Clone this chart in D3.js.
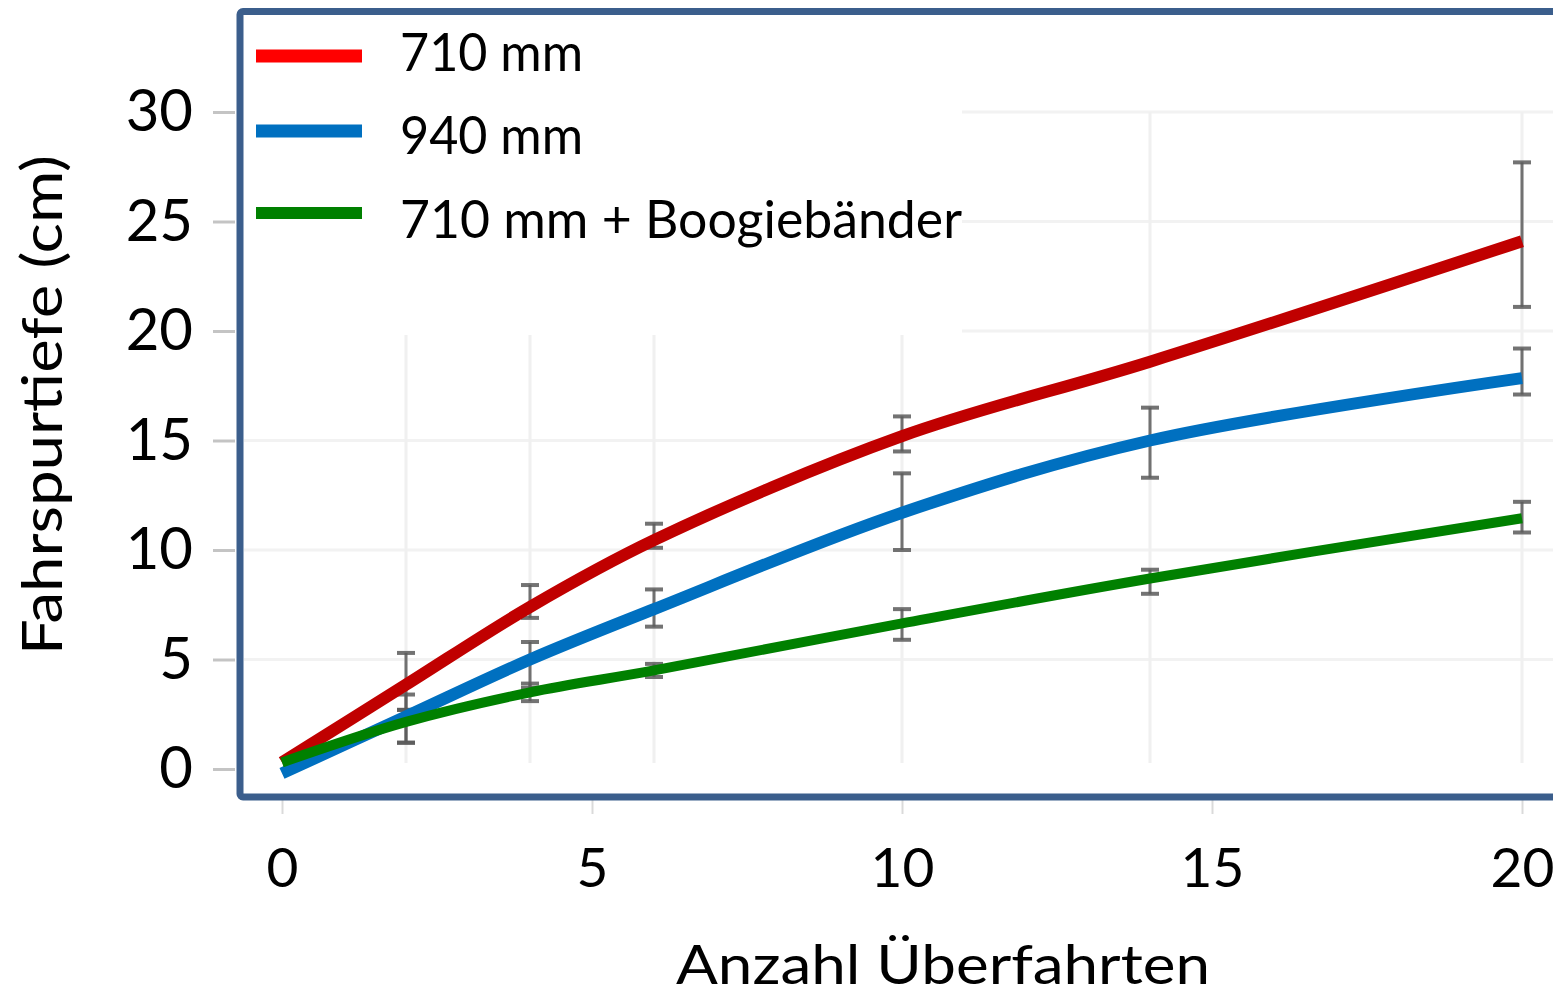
<!DOCTYPE html>
<html>
<head>
<meta charset="utf-8">
<script src="https://cdn.jsdelivr.net/npm/d3@7"></script>
<style>
html,body{margin:0;padding:0;background:#fff;}
svg{display:block;}
text{font-family:Lato,"Open Sans",sans-serif;fill:#000;}
</style>
</head>
<body>
<svg id="chart" width="1553" height="997"></svg>
<script>
// ---- data ----
const passes = [0, 2, 4, 6, 10, 14, 20];
const series710 = [0.3, 3.85, 7.4, 10.45, 15.2, 18.6, 24.1];
const series940 = [-0.2, 2.4, 5.0, 7.3, 11.7, 15.0, 17.85];
const series710B = [0.3, 2.15, 3.5, 4.5, 6.65, 8.7, 11.45];
const err710Lo = [null, 2.7, 6.9, 10.1, 14.5, null, 21.1];
const err710Hi = [null, 5.3, 8.4, 11.2, 16.1, null, 27.7];
const err940Lo = [null, 1.2, 3.7, 6.5, 10.0, 13.3, 17.1];
const err940Hi = [null, 3.4, 5.8, 8.2, 13.5, 16.5, 19.2];
const err710BLo = [null, 1.2, 3.1, 4.2, 5.9, 8.0, 10.8];
const err710BHi = [null, 2.7, 3.9, 4.8, 7.3, 9.1, 12.2];
const seriesNames = ["710 mm", "940 mm", "710 mm + Boogiebänder"];
const xTicks = [0, 5, 10, 15, 20];
const yTicks = [0, 5, 10, 15, 20, 25, 30];
const xTitle = "Anzahl Überfahrten";
const yTitle = "Fahrspurtiefe (cm)";

// ---- layout ----
const svg = d3.select("#chart");
const x = d3.scaleLinear().domain([0, 20]).range([282, 1522]);
const y = d3.scaleLinear().domain([0, 30]).range([769, 112]);

const lineColors = ["#c00000", "#0070c0", "#008000"];
const legendColors = ["#ff0000", "#0070c0", "#008000"];
const lineWidths = [12, 12, 10];

const seriesData = [series710, series940, series710B];
const errLo = [err710Lo, err940Lo, err710BLo];
const errHi = [err710Hi, err940Hi, err710BHi];

// gridlines (very faint)
const grid = svg.append("g");
grid.selectAll("line.h").data(yTicks.filter(d => d > 0)).join("line")
  .attr("x1", 244).attr("x2", 1553)
  .attr("y1", d => y(d)).attr("y2", d => y(d))
  .attr("stroke", "#f2f2f2").attr("stroke-width", 3);
grid.selectAll("line.v").data(passes.filter(d => d > 0)).join("line")
  .attr("x1", d => x(d)).attr("x2", d => x(d))
  .attr("y1", y(30)).attr("y2", y(0) - 6)
  .attr("stroke", "#f0f0f0").attr("stroke-width", 3);

// legend background
svg.append("rect").attr("x", 244).attr("y", 15).attr("width", 718).attr("height", 320)
  .attr("fill", "#fff");

// axes
const yAxis = svg.append("g").attr("transform", "translate(235,0)")
  .call(d3.axisLeft(y).tickValues(yTicks).tickSize(22).tickPadding(20).tickFormat(d3.format("d")));
yAxis.select(".domain").remove();
yAxis.selectAll(".tick line").attr("stroke", "#c4c4c4").attr("stroke-width", 3);
yAxis.selectAll(".tick text").attr("font-size", 58).attr("font-family", "Lato, sans-serif").attr("fill", "#000");

const xAxis = svg.append("g").attr("transform", "translate(0,800)")
  .call(d3.axisBottom(x).tickValues(xTicks).tickSize(14).tickPadding(34).tickFormat(d3.format("d")));
xAxis.select(".domain").remove();
xAxis.selectAll(".tick line").attr("stroke", "#dadada").attr("stroke-width", 2);
xAxis.selectAll(".tick text").attr("font-size", 55).attr("font-family", "Lato, sans-serif").attr("fill", "#000");

// error bars
const eb = svg.append("g");
seriesData.forEach((s, si) => {
  const rows = passes.map((p, i) => ({p, lo: errLo[si][i], hi: errHi[si][i]})).filter(r => r.lo !== null);
  const g = eb.append("g").attr("stroke", "#5a5a5a").attr("stroke-opacity", 0.85);
  g.selectAll("line.s").data(rows).join("line")
    .attr("x1", r => x(r.p)).attr("x2", r => x(r.p))
    .attr("y1", r => y(r.lo)).attr("y2", r => y(r.hi)).attr("stroke-width", 3);
  g.selectAll("line.t").data(rows).join("line")
    .attr("x1", r => x(r.p) - 9).attr("x2", r => x(r.p) + 9)
    .attr("y1", r => y(r.hi)).attr("y2", r => y(r.hi)).attr("stroke-width", 4);
  g.selectAll("line.b").data(rows).join("line")
    .attr("x1", r => x(r.p) - 9).attr("x2", r => x(r.p) + 9)
    .attr("y1", r => y(r.lo)).attr("y2", r => y(r.lo)).attr("stroke-width", 4);
});

// lines
const line = d3.line().x(d => x(d[0])).y(d => y(d[1])).curve(d3.curveCatmullRom.alpha(0.5));
seriesData.forEach((s, si) => {
  svg.append("path")
    .datum(passes.map((p, i) => [p, s[i]]))
    .attr("d", line)
    .attr("fill", "none")
    .attr("stroke", lineColors[si])
    .attr("stroke-width", lineWidths[si])
    .attr("stroke-linejoin", "round");
});

// frame
svg.append("rect").attr("x", 240).attr("y", 11.5).attr("width", 1400).attr("height", 785.5)
  .attr("rx", 3).attr("fill", "none").attr("stroke", "#3b5e8c").attr("stroke-width", 7);

// legend
const legY = [56, 131, 213];
const legTextY = [71, 154, 238];
const legTextW = [183, 183, 562];
const leg = svg.append("g");
seriesNames.forEach((name, i) => {
  leg.append("line").attr("x1", 256).attr("x2", 362).attr("y1", legY[i]).attr("y2", legY[i])
    .attr("stroke", legendColors[i]).attr("stroke-width", i === 2 ? 12 : 13);
  leg.append("text").attr("x", 400).attr("y", legTextY[i]).attr("font-size", 52)
    .attr("textLength", legTextW[i]).attr("lengthAdjust", "spacingAndGlyphs").text(name);
});

// titles
svg.append("text").attr("x", 943).attr("y", 984).attr("text-anchor", "middle")
  .attr("font-size", 54).attr("textLength", 534).attr("lengthAdjust", "spacingAndGlyphs").text(xTitle);
svg.append("text").attr("transform", "translate(62,405) rotate(-90)").attr("text-anchor", "middle")
  .attr("font-size", 56).attr("textLength", 500).attr("lengthAdjust", "spacingAndGlyphs").text(yTitle);
</script>
</body>
</html>
